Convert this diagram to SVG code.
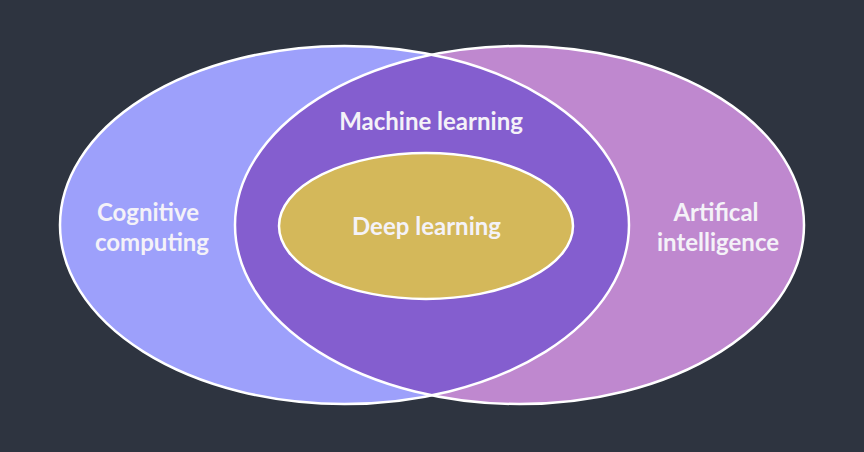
<svg xmlns="http://www.w3.org/2000/svg" width="864" height="452" viewBox="0 0 864 452">
<style>
.lbl{font-family:Lato,"Open Sans","Liberation Sans",sans-serif;font-weight:700;font-size:24px;fill:#f4f2f8;text-anchor:middle}
.edge{fill:none;stroke:#ffffff;stroke-width:2.5}
</style>
<defs>
<clipPath id="clipLeft"><ellipse cx="344.5" cy="225" rx="284.5" ry="179"/></clipPath>
</defs>
<rect width="864" height="452" fill="#2e3440"/>
<g id="cognitive-computing">
<ellipse cx="344.5" cy="225" rx="284.5" ry="179" fill="#9da0fb"/>
</g>
<g id="artificial-intelligence">
<ellipse cx="519.5" cy="225" rx="284.5" ry="179" fill="#bf88cf"/>
</g>
<g id="machine-learning">
<ellipse cx="519.5" cy="225" rx="284.5" ry="179" fill="#845ecf" clip-path="url(#clipLeft)"/>
</g>
<g id="outlines">
<ellipse class="edge" cx="344.5" cy="225" rx="284.5" ry="179"/>
<ellipse class="edge" cx="519.5" cy="225" rx="284.5" ry="179"/>
</g>
<g id="deep-learning">
<ellipse cx="426" cy="226" rx="147" ry="73" fill="#d4b85a" stroke="#ffffff" stroke-width="2.5"/>
<text class="lbl" x="426.5" y="235">Deep learning</text>
</g>
<g id="labels">
<text class="lbl" x="431" y="130">Machine learning</text>
<text class="lbl" x="148" y="221">Cognitive</text>
<text class="lbl" x="152" y="251">computing</text>
<text class="lbl" x="716" y="221">Artifical</text>
<text class="lbl" x="718" y="251">intelligence</text>
</g>
</svg>
